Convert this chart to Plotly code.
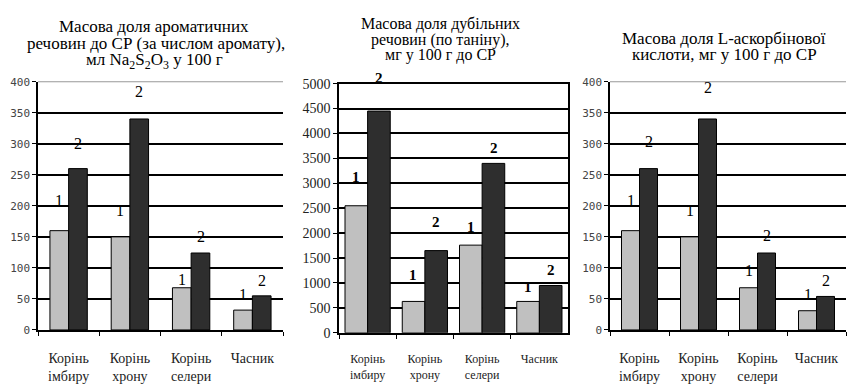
import plotly.graph_objects as go

# Categories shared by all three panels
categories = ["Корінь<br>імбиру", "Корінь<br>хрону", "Корінь<br>селери", "Часник"]

# Panel 1: aromatic substances, ml Na2S2O3 per 100 g
aroma_1 = [160, 150, 68, 32]
aroma_2 = [260, 340, 124, 55]

# Panel 2: tannins, mg per 100 g DM
tannin_1 = [2550, 630, 1760, 630]
tannin_2 = [4450, 1650, 3400, 950]

# Panel 3: L-ascorbic acid, mg per 100 g DM
ascorbic_1 = [160, 150, 68, 31]
ascorbic_2 = [260, 340, 124, 54]

series_names = ["1", "2"]

aroma_ticks = [0, 50, 100, 150, 200, 250, 300, 350, 400]
tannin_ticks = [0, 500, 1000, 1500, 2000, 2500, 3000, 3500, 4000, 4500, 5000]
ascorbic_ticks = [0, 50, 100, 150, 200, 250, 300, 350, 400]

# Height of the "1"/"2" labels above each bar (data units)
aroma_lift_1 = [49, 43, 14, 25]
aroma_lift_2 = [40, 45, 26, 25]
tannin_lift_1 = [585, 524, 355, 293]
tannin_lift_2 = [665, 581, 311, 319]
ascorbic_lift_1 = [49, 43, 28, 26]
ascorbic_lift_2 = [43, 50, 28, 26]

W, H = 848, 384
LIGHT = "#c0c0c0"
DARK = "#2e2e2e"
SERIF = "Liberation Serif"
MONO = "DejaVu Sans Mono"

def px(x):
    return x / W

def py(y):
    return 1 - y / H

panels = [
    dict(v1=aroma_1, v2=aroma_2, l1=aroma_lift_1, l2=aroma_lift_2, ticks=aroma_ticks,
         xd=[px(38), px(283)], yd=[py(337), py(78)], barw=0.305, shift=9.5,
         tickfont=dict(family=MONO, size=11, color="#444"),
         catfont=dict(family=SERIF, size=14, color="#222"), standoff=14,
         labfont=dict(family=SERIF, size=16, color="#000"), box=False),
    dict(v1=tannin_1, v2=tannin_2, l1=tannin_lift_1, l2=tannin_lift_2, ticks=tannin_ticks,
         xd=[px(339), px(568)], yd=[py(340), py(80)], barw=0.395, shift=11.5,
         tickfont=dict(family=SERIF, size=14, color="#222"),
         catfont=dict(family=SERIF, size=12, color="#222"), standoff=14,
         labfont=dict(family=SERIF, size=15, color="#000"), box=True, bold=True),
    dict(v1=ascorbic_1, v2=ascorbic_2, l1=ascorbic_lift_1, l2=ascorbic_lift_2, ticks=ascorbic_ticks,
         xd=[px(610), px(846)], yd=[py(337), py(78)], barw=0.305, shift=9,
         tickfont=dict(family=MONO, size=11, color="#444"),
         catfont=dict(family=SERIF, size=14, color="#222"), standoff=14,
         labfont=dict(family=SERIF, size=16, color="#000"), box=False),
]

fig = go.Figure()
annotations = []
shapes = []

for i, p in enumerate(panels):
    n = "" if i == 0 else str(i + 1)
    xa, ya = "x" + n, "y" + n
    w = p["barw"]
    for vals, color, off in ((p["v1"], LIGHT, -w), (p["v2"], DARK, 0)):
        fig.add_trace(go.Bar(
            x=categories, y=vals, xaxis=xa, yaxis=ya, width=w, offset=off,
            marker=dict(color=color, line=dict(color="#000", width=1)),
            showlegend=False, hoverinfo="x+y",
        ))
    top = p["ticks"][-1]
    fig.layout["xaxis" + n] = dict(
        domain=p["xd"], anchor=ya, type="category",
        showline=True, linecolor="#000", linewidth=1.5,
        ticks="outside", tickson="boundaries", ticklen=4, tickcolor="#000",
        tickfont=p["catfont"], ticklabelstandoff=p["standoff"], showgrid=False,
        mirror=p["box"],
    )
    fig.layout["yaxis" + n] = dict(
        domain=p["yd"], anchor=xa, range=[0, top], tickvals=p["ticks"],
        showline=True, linecolor="#000", linewidth=1.5,
        ticks="outside", ticklen=4, tickcolor="#000",
        showgrid=True, gridcolor="#000", gridwidth=1.5,
        zeroline=False, tickfont=p["tickfont"],
        mirror=p["box"],
    )
    if not p["box"]:
        # thin grey frame line along the top of the plot area
        shapes.append(dict(type="line", xref=xa + " domain", yref=ya + " domain",
                           x0=0, x1=1, y0=1, y1=1, line=dict(color="#fff", width=3), layer="above"))
        shapes.append(dict(type="line", xref=xa + " domain", yref=ya + " domain",
                           x0=0, x1=1, y0=1, y1=1, line=dict(color="#999", width=1), layer="above"))
    ppu = (p["yd"][1] - p["yd"][0]) * H / top  # pixels per data unit
    for vals, lifts, name, sh in ((p["v1"], p["l1"], series_names[0], -p["shift"]),
                                  (p["v2"], p["l2"], series_names[1], p["shift"])):
        for c, v, lift in zip(categories, vals, lifts):
            y = v + lift
            ys = 0
            if y > top:  # keep labels above the frame visible
                ys = (y - top) * ppu
                y = top
            annotations.append(dict(
                x=c, y=y, xref=xa, yref=ya, xshift=sh, yshift=ys, yanchor="middle",
                text=f"<b>{name}</b>" if p.get("bold") else name,
                showarrow=False, font=p["labfont"],
            ))

# Panel titles, one annotation per line
titles = [
    (154, 20, "Масова доля ароматичних", 17),
    (156, 38, "речовин до СР (за числом аромату),", 17),
    (154, 56, "мл Na<sub>2</sub>S<sub>2</sub>O<sub>3</sub> у 100 г", 17),
    (440, 18, "Масова доля дубільних", 16),
    (440, 34, "речовин (по таніну),", 16),
    (440, 50, "мг у 100 г до СР", 16),
    (724, 33, "Масова доля L-аскорбінової", 17),
    (724, 50, "кислоти, мг у 100 г до СР", 17),
]
for x, y, t, s in titles:
    annotations.append(dict(x=px(x), y=py(y), xref="paper", yref="paper",
                            xanchor="center", yanchor="middle", text=t, showarrow=False,
                            font=dict(family=SERIF, size=s, color="#000")))

fig.update_layout(
    width=W, height=H, margin=dict(l=0, r=0, t=0, b=0),
    font=dict(family=SERIF, color="#000"),
    paper_bgcolor="#fff", plot_bgcolor="#fff",
    annotations=annotations, shapes=shapes,
)
fig.write_html("out.html")
